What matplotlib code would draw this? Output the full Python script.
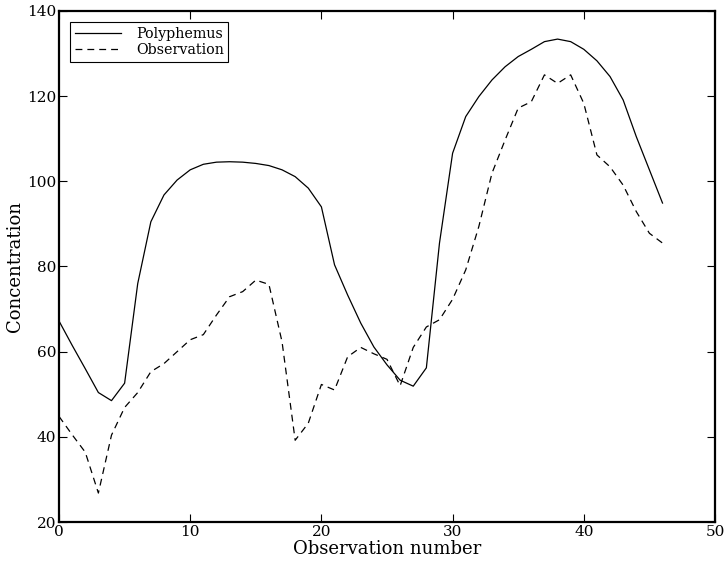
import matplotlib
matplotlib.use("Agg")
import matplotlib.pyplot as plt
import numpy as np

# observation index
obs_number = np.arange(47)

# model output (solid line)
polyphemus = [67.2, 61.5, 56.0, 50.4, 48.5, 52.6, 76.0, 90.5, 96.8, 100.3,
              102.7, 104.0, 104.5, 104.6, 104.5, 104.2, 103.7, 102.7, 101.1, 98.4,
              94.0, 80.4, 73.3, 66.7, 61.1, 56.9, 53.3, 51.9, 56.2, 85.5,
              106.6, 115.2, 119.9, 123.8, 126.9, 129.3, 131.0, 132.8, 133.4, 132.8,
              131.0, 128.3, 124.6, 119.1, 110.5, 102.7, 94.9]

# measurements (dashed line)
observation = [44.8, 40.5, 36.4, 26.8, 40.4, 46.9, 50.4, 55.3, 57.2, 60.0,
               62.8, 64.0, 68.6, 72.9, 74.1, 76.8, 75.8, 62.3, 39.2, 43.2,
               52.3, 51.0, 58.8, 61.0, 59.5, 58.2, 52.0, 61.0, 65.8, 67.5,
               72.3, 79.2, 89.4, 101.9, 109.7, 117.2, 118.7, 125.0, 123.0, 125.0,
               118.3, 106.2, 103.4, 99.1, 92.9, 87.8, 85.5]

plt.rcParams['font.family'] = 'DejaVu Serif'
plt.rcParams['xtick.direction'] = 'in'
plt.rcParams['ytick.direction'] = 'in'
plt.rcParams['xtick.top'] = True
plt.rcParams['ytick.right'] = True

fig = plt.figure(figsize=(7.25, 5.63), dpi=100)
ax = fig.add_axes([0.0814, 0.0728, 0.9048, 0.9077])

ax.plot(obs_number, polyphemus, color='black', linestyle='-', linewidth=0.9,
        label='Polyphemus')
ax.plot(obs_number, observation, color='black', linestyle=(0, (5.5, 4)),
        linewidth=0.9, label='Observation')

ax.set_xlim(0, 50)
ax.set_ylim(20, 140)
ax.set_xticks([0, 10, 20, 30, 40, 50])
ax.set_yticks([20, 40, 60, 80, 100, 120, 140])
ax.tick_params(labelsize=11, length=6, width=0.8, pad=2)
for s in ax.spines.values():
    s.set_linewidth(1.6)

ax.set_xlabel('Observation number', fontsize=13, labelpad=1)
ax.set_ylabel('Concentration', fontsize=13, labelpad=2)

leg = ax.legend(loc='upper left', fontsize=10.3, fancybox=False, framealpha=1,
                edgecolor='black', handlelength=3.2, handletextpad=1.1,
                borderpad=0.3, labelspacing=0.18, borderaxespad=0.8)
leg.get_frame().set_linewidth(0.8)

fig.savefig('out.png', dpi=100)
